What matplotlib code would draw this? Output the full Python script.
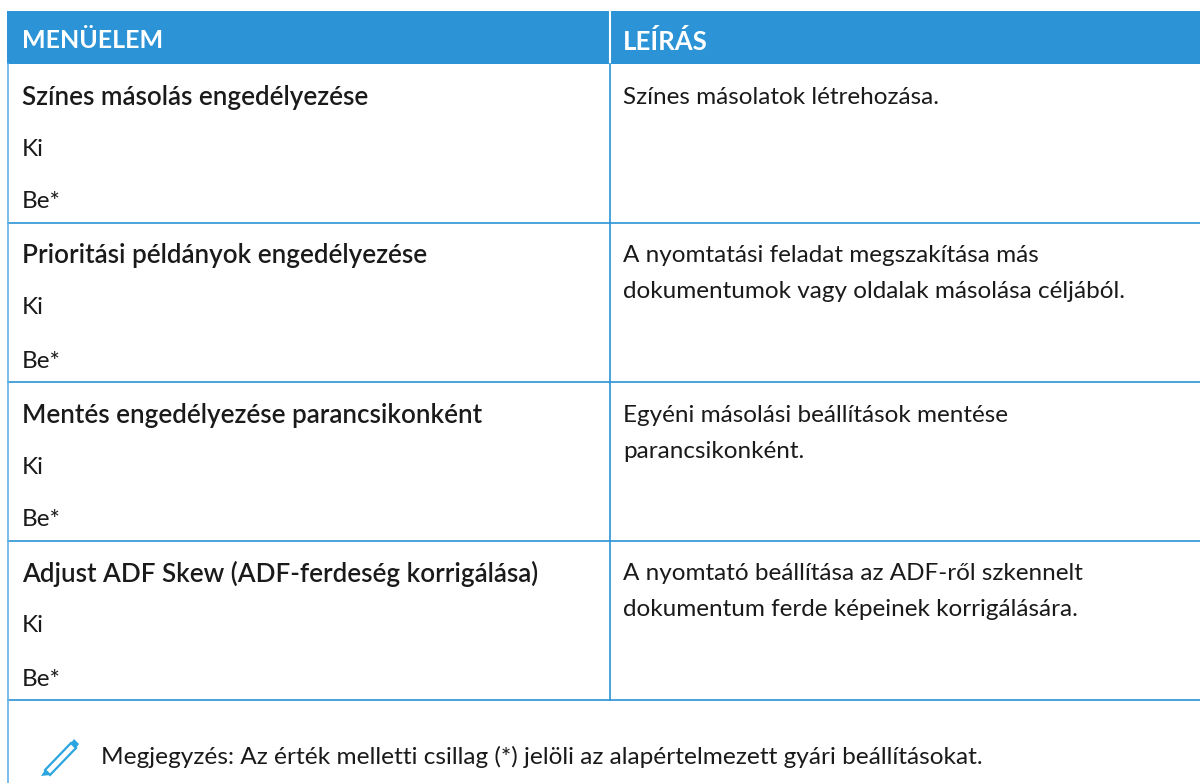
import matplotlib.pyplot as plt
from matplotlib.patches import Polygon, Rectangle

headers = ["MENÜELEM", "LEÍRÁS"]
menu_items = [
    "Színes másolás engedélyezése",
    "Prioritási példányok engedélyezése",
    "Mentés engedélyezése parancsikonként",
    "Adjust ADF Skew (ADF-ferdeség korrigálása)",
]
options = ["Ki", "Be*"]
descriptions = [
    ["Színes másolatok létrehozása."],
    ["A nyomtatási feladat megszakítása más", "dokumentumok vagy oldalak másolása céljából."],
    ["Egyéni másolási beállítások mentése", "parancsikonként."],
    ["A nyomtató beállítása az ADF-ről szkennelt", "dokumentum ferde képeinek korrigálására."],
]
note = "Megjegyzés: Az érték melletti csillag (*) jelöli az alapértelmezett gyári beállításokat."

blue = "#2b93d6"
left, mid, right = 7.5, 609.5, 1200
head_top, head_bottom = 11, 64
row_h = 159
text_x1, text_x2 = 22, 623
text_c = "#1a1a1a"

plt.rcParams["font.family"] = ["Lato", "DejaVu Sans"]
fig = plt.figure(figsize=(12, 7.83), dpi=100)
ax = fig.add_axes([0, 0, 1, 1])
ax.set_xlim(0, 1200)
ax.set_ylim(783, 0)
ax.axis("off")

# header band
ax.add_patch(Rectangle((left - 1, head_top), right - left + 1, head_bottom - head_top, color=blue, lw=0))
ax.plot([mid, mid], [head_top, head_bottom], color="white", lw=1.5)
ax.text(text_x1, 41, headers[0], color="white", fontsize=18, fontweight="bold", va="center")
ax.text(text_x2, 41, headers[1], color="white", fontsize=18.5, fontweight="bold", va="center")

# rows
for i, item in enumerate(menu_items):
    y0 = head_bottom + i * row_h
    ax.text(text_x1, y0 + 33, item, color=text_c, fontsize=18.7, fontweight="semibold", va="center")
    ax.text(text_x1, y0 + 85, options[0], color=text_c, fontsize=17.5, va="center")
    ax.text(text_x1, y0 + 138, options[1], color=text_c, fontsize=17.5, va="center")
    for j, line in enumerate(descriptions[i]):
        ax.text(text_x2, y0 + 33 + j * 36, line, color=text_c, fontsize=17.5, va="center")
    ax.plot([left, right], [y0 + row_h] * 2, color=blue, lw=1.2)

# outer and column lines
rows_bottom = head_bottom + len(menu_items) * row_h
ax.plot([mid, mid], [head_bottom, rows_bottom], color=blue, lw=1.2)
ax.plot([left, left], [head_bottom, 783], color="#63b3e4", lw=1.2)

# note with pencil icon
icon_c = "#2aa5df"
ax.add_patch(Polygon([(45, 770), (71, 743), (76, 748), (50, 775)], closed=True, fill=False, ec=icon_c, lw=1.6))
ax.add_patch(Polygon([(71, 743), (74, 739), (79, 744), (76, 748)], closed=True, color=icon_c, lw=0))
ax.add_patch(Polygon([(45, 770), (41, 776), (50, 775)], closed=True, color=icon_c, lw=0))
ax.text(101, 757, note, color=text_c, fontsize=17.6, va="center")

fig.savefig("out.png", dpi=100)
